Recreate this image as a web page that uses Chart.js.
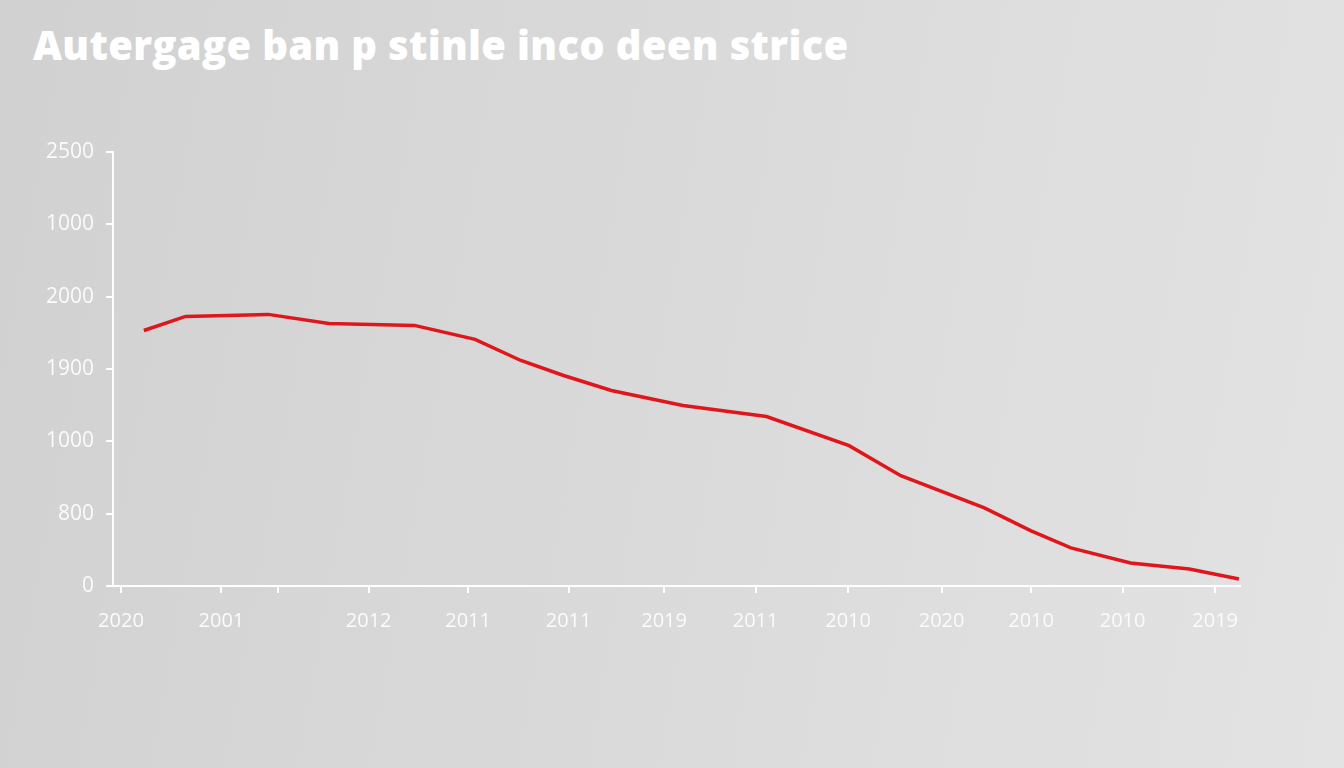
<!DOCTYPE html>
<html>
<head>
<meta charset="utf-8">
<script src="https://cdn.jsdelivr.net/npm/chart.js@4"></script>
<style>
  html, body { margin: 0; padding: 0; }
  body {
    width: 1344px; height: 768px; overflow: hidden; position: relative;
    background: linear-gradient(100deg, #d1d1d1 0%, #d9d9d9 45%, #e3e3e3 100%);
  }
  h1 {
    position: absolute; left: 33px; top: 17px; margin: 0;
    font-family: 'Open Sans', sans-serif; font-weight: 800; font-size: 40px;
    color: #ffffff; letter-spacing: 0.3px; white-space: nowrap;
  }
  #chart { position: absolute; left: 0; top: 0; }
</style>
</head>
<body>
<h1>Autergage ban p stinle inco deen strice</h1>
<canvas id="chart" width="1344" height="768"></canvas>
<script>
  // y tick labels, bottom to top, as printed in the picture
  const yTickLabels = ['0', '800', '1000', '1900', '2000', '1000', '2500'];
  // x ticks (axis units) and their printed labels
  const xTickValues = [0, 1.01, 1.58, 2.49, 3.49, 4.5, 5.46, 6.38, 7.31, 8.25, 9.15, 10.07, 11.0];
  const xTickLabels = ['2020', '2001', '', '2012', '2011', '2011', '2019', '2011', '2010', '2020', '2010', '2010', '2019'];
  // line series
  const seriesX = [0.23, 0.65, 1.48, 2.09, 2.95, 3.56, 4.02, 4.45, 4.93, 5.65, 6.49, 7.32, 7.84, 8.68, 9.15, 9.55, 10.15, 10.74, 11.24];
  const seriesY = [1413, 1491, 1502, 1452, 1441, 1364, 1247, 1164, 1081, 998, 937, 776, 610, 432, 305, 211, 127, 94, 39];

  const points = seriesX.map((x, i) => ({ x: x, y: seriesY[i] }));

  new Chart(document.getElementById('chart'), {
    type: 'line',
    data: {
      datasets: [{
        data: points,
        borderColor: '#df171c',
        borderWidth: 3.5,
        pointRadius: 0,
        tension: 0
      }]
    },
    options: {
      responsive: false,
      animation: false,
      layout: { padding: { top: 152, right: 104, bottom: 0, left: 0 } },
      plugins: { legend: { display: false }, tooltip: { enabled: false } },
      scales: {
        x: {
          type: 'linear',
          min: -0.08,
          max: 11.25,
          afterBuildTicks: function(scale) {
            scale.ticks = xTickValues.map(v => ({ value: v }));
          },
          afterFit: function(scale) { scale.height = 768 - 586; },
          border: { color: '#ffffff', width: 2 },
          grid: { drawOnChartArea: false, color: '#ffffff', tickLength: 7, lineWidth: 2 },
          ticks: {
            color: '#fbfbfb',
            padding: 16,
            maxRotation: 0,
            autoSkip: false,
            font: { family: "'Open Sans', sans-serif", size: 20 },
            callback: function(value, index) { return xTickLabels[index]; }
          }
        },
        y: {
          min: 0,
          max: 2400,
          afterBuildTicks: function(scale) {
            scale.ticks = yTickLabels.map((_, i) => ({ value: i * 400 }));
          },
          afterFit: function(scale) { scale.width = 113; },
          border: { color: '#ffffff', width: 2 },
          grid: { drawOnChartArea: false, color: '#ffffff', tickLength: 7, lineWidth: 2 },
          ticks: {
            color: '#fbfbfb',
            padding: 12,
            font: { family: "'Open Sans', sans-serif", size: 21 },
            callback: function(value, index) { return yTickLabels[index]; }
          }
        }
      }
    }
  });
</script>
</body>
</html>
